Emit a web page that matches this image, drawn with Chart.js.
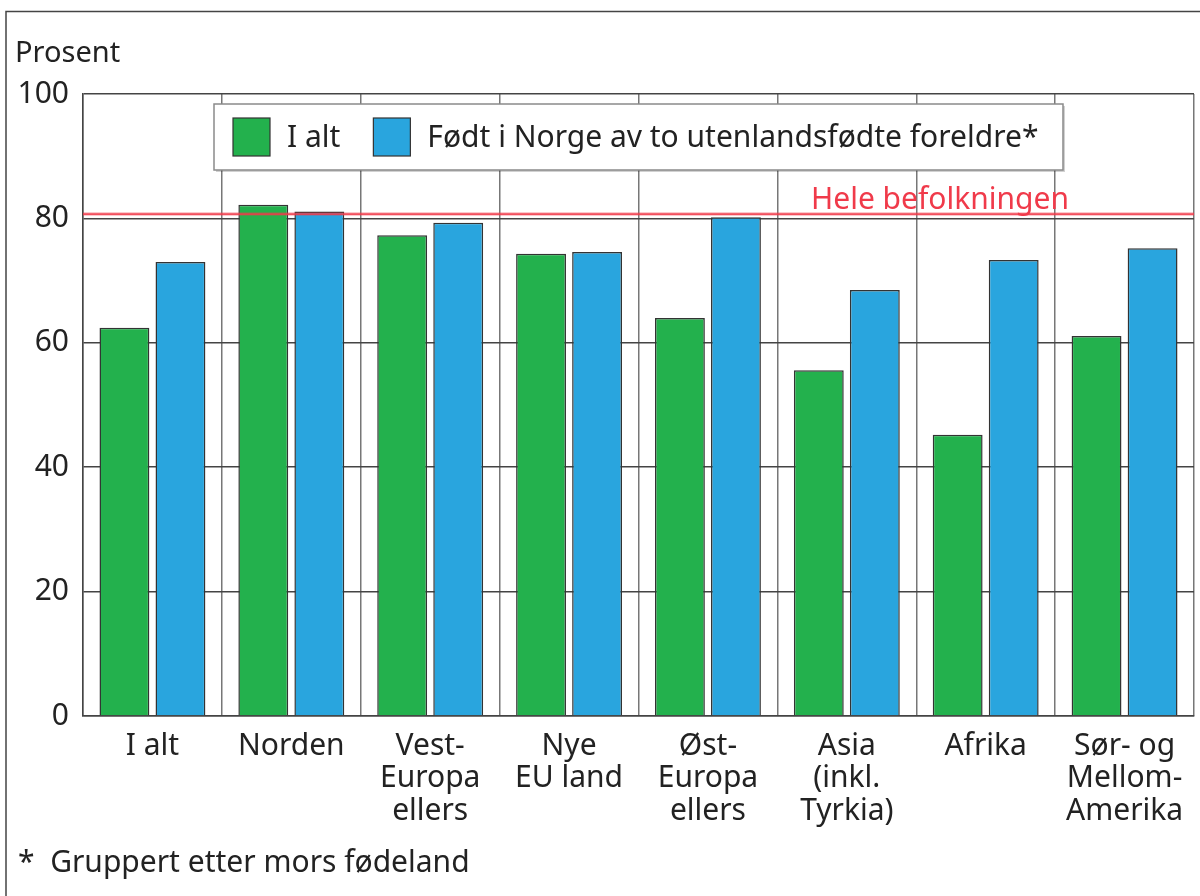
<!DOCTYPE html>
<html>
<head>
<meta charset="utf-8">
<script src="https://cdn.jsdelivr.net/npm/chart.js@4/dist/chart.umd.min.js"></script>
<style>
  html, body { margin: 0; padding: 0; background: #fff; }
  #wrap { width: 1200px; height: 896px; position: relative; }
</style>
</head>
<body>
<div id="wrap"><canvas id="c" width="1200" height="896"></canvas></div>
<script>
const categories = [
  ["I alt"],
  ["Norden"],
  ["Vest-", "Europa", "ellers"],
  ["Nye", "EU land"],
  ["Øst-", "Europa", "ellers"],
  ["Asia", "(inkl.", "Tyrkia)"],
  ["Afrika"],
  ["Sør- og", "Mellom-", "Amerika"]
];
const seriesNames = ["I alt", "Født i Norge av to utenlandsfødte foreldre*"];
const iAlt = [62.4, 82.2, 77.3, 74.3, 64.0, 55.6, 45.2, 61.1];
const fodtINorge = [73.0, 81.1, 79.3, 74.6, 80.2, 68.5, 73.3, 75.2];
const yTicks = [0, 20, 40, 60, 80, 100];
const referenceLabel = "Hele befolkningen";
const referenceValue = 80.7;
const yTitle = "Prosent";
const footnote = "*  Gruppert etter mors fødeland";

const FONT = "'Noto Sans', 'DejaVu Sans', sans-serif";
const TXT = "#222";

const decorPlugin = {
  id: 'decor',
  beforeDraw(chart) {
    const ctx = chart.ctx;
    ctx.save();
    ctx.fillStyle = '#fff';
    ctx.fillRect(0, 0, chart.width, chart.height);
    ctx.strokeStyle = '#444';
    ctx.lineWidth = 1.5;
    ctx.strokeRect(6, 11.5, 1260, 1000);
    ctx.restore();
  },
  afterDatasetsDraw(chart) {
    const ctx = chart.ctx;
    const a = chart.chartArea;
    const y = chart.scales.y.getPixelForValue(referenceValue);
    ctx.save();
    // reference line
    ctx.strokeStyle = 'rgba(240,60,75,0.55)';
    ctx.lineWidth = 3;
    ctx.beginPath(); ctx.moveTo(a.left, y); ctx.lineTo(a.right, y); ctx.stroke();
    ctx.strokeStyle = '#f03a4a';
    ctx.lineWidth = 1.2;
    ctx.beginPath(); ctx.moveTo(a.left, y); ctx.lineTo(a.right, y); ctx.stroke();
    ctx.fillStyle = '#f03a4a';
    ctx.font = "30px " + FONT;
    ctx.textAlign = 'left';
    ctx.textBaseline = 'alphabetic';
    ctx.fillText(referenceLabel, 811, y - 5);

    // legend box
    const bx = 214, by = 104, bw = 849, bh = 66;
    ctx.fillStyle = 'rgba(0,0,0,0.18)';
    ctx.fillRect(bx + 2, by + 2, bw, bh);
    ctx.fillStyle = '#fff';
    ctx.fillRect(bx, by, bw, bh);
    ctx.strokeStyle = '#8a8a8a';
    ctx.lineWidth = 1.5;
    ctx.strokeRect(bx, by, bw, bh);
    const ds = chart.data.datasets;
    ctx.font = "30px " + FONT;
    ctx.textBaseline = 'middle';
    let x = 233;
    const cy = by + bh / 2;
    ds.forEach((d, i) => {
      ctx.fillStyle = d.backgroundColor;
      ctx.fillRect(x, cy - 19, 37, 38);
      ctx.strokeStyle = '#333';
      ctx.lineWidth = 1.2;
      ctx.strokeRect(x, cy - 19, 37, 38);
      ctx.fillStyle = TXT;
      ctx.fillText(d.label, x + 54, cy + 1);
      x += 54 + ctx.measureText(d.label).width + 33;
    });

    // axis title and footnote
    ctx.fillStyle = TXT;
    ctx.font = "29px " + FONT;
    ctx.textBaseline = 'middle';
    ctx.fillText(yTitle, 15, 54);
    ctx.font = "30px " + FONT;
    ctx.fillText(footnote, 18, 863);
    ctx.restore();
  }
};

new Chart(document.getElementById('c'), {
  type: 'bar',
  data: {
    labels: categories,
    datasets: [
      { label: seriesNames[0], data: iAlt, backgroundColor: '#23b14d', borderColor: '#333', borderWidth: 1.5,
        categoryPercentage: 0.807, barPercentage: 0.89 },
      { label: seriesNames[1], data: fodtINorge, backgroundColor: '#29a5de', borderColor: '#333', borderWidth: 1.5,
        categoryPercentage: 0.807, barPercentage: 0.89 }
    ]
  },
  options: {
    responsive: false,
    animation: false,
    layout: { padding: { top: 94, right: 6, left: 0, bottom: 0 } },
    plugins: { legend: { display: false }, tooltip: { enabled: false } },
    scales: {
      x: {
        afterFit(s) { s.height = 180; },
        grid: { color: '#777', lineWidth: 1.5, drawTicks: false, offset: true },
        border: { color: '#444', width: 1.5 },
        ticks: { color: TXT, font: { family: FONT, size: 30, lineHeight: 1.08 }, padding: 14, maxRotation: 0, autoSkip: false }
      },
      y: {
        min: 0, max: 100,
        afterFit(s) { s.width = 83; },
        afterBuildTicks(s) { s.ticks = yTicks.map(v => ({ value: v })); },
        grid: { color: '#444', lineWidth: 1.5, drawTicks: false },
        border: { color: '#444', width: 1.5 },
        ticks: { color: TXT, font: { family: FONT, size: 30 }, padding: 14 }
      }
    }
  },
  plugins: [decorPlugin]
});
</script>
</body>
</html>
